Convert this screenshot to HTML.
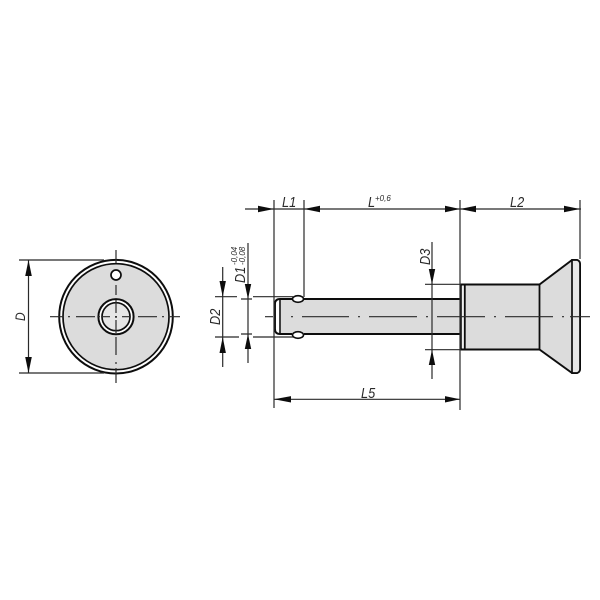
<!DOCTYPE html>
<html>
<head>
<meta charset="utf-8">
<style>
html,body{margin:0;padding:0;background:#fff;width:600px;height:600px;overflow:hidden}
svg{display:block}
text{font-family:"Liberation Sans",sans-serif;font-style:italic;fill:#2a2a2a}
</style>
</head>
<body>
<svg width="600" height="600" viewBox="0 0 600 600" xmlns="http://www.w3.org/2000/svg">
<defs><filter id="b" filterUnits="userSpaceOnUse" x="0" y="0" width="600" height="600"><feGaussianBlur stdDeviation="0.35"/></filter></defs>
<g filter="url(#b)">
<!-- Left view -->
<circle cx="116" cy="316.7" r="56.8" fill="#fff" stroke="#111" stroke-width="2"/>
<circle cx="116" cy="316.7" r="53" fill="#dcdcdc" stroke="#111" stroke-width="1.7"/>
<circle cx="116" cy="316.7" r="17.6" fill="#fff" stroke="#111" stroke-width="2"/>
<circle cx="116" cy="316.7" r="14" fill="#e6e6e6" stroke="#111" stroke-width="1.7"/>
<circle cx="116" cy="275" r="5" fill="#fff" stroke="#111" stroke-width="1.7"/>
<g stroke="#2a2a2a" stroke-width="1.2" fill="none">
<path d="M50 316.7H63M68 316.7H70M76 316.7H95M98 316.7H100M102 316.7H110M115 316.7H117M122 316.7H130M138 316.7H157M162 316.7H164M170 316.7H180"/>
<path d="M116 250V263M116 269V271M116 285V295M116 300V313M116 316V318M116 320V333M116 337V355M116 362V364M116 368V383"/>
<path d="M19 260H104M19 373H104M28.5 260V373"/>
</g>
<g fill="#111">
<path d="M28.5 260L25.2 276H31.8Z"/>
<path d="M28.5 373L25.2 357H31.8Z"/>
</g>
<text transform="translate(25,321) rotate(-90) scale(.85,1)" font-size="14">D</text>

<!-- Pin body -->
<path d="M280 299H461V334H280Z" fill="#dcdcdc" stroke="none"/>
<path d="M304 299H461M304 334H461" stroke="#111" stroke-width="1.9" fill="none"/>
<path d="M292 299H280Q275 299 275 304V329Q275 334 280 334H292" fill="#fff" stroke="#111" stroke-width="1.9"/>
<path d="M280 299V334" stroke="#111" stroke-width="1.6"/>
<path d="M281 300H300V333H281Z" fill="#dcdcdc"/>
<ellipse cx="298" cy="299" rx="5.5" ry="3.3" fill="#fff" stroke="#111" stroke-width="1.6"/>
<ellipse cx="298" cy="335" rx="5.5" ry="3.3" fill="#fff" stroke="#111" stroke-width="1.6"/>

<!-- Collar & head -->
<path d="M461 284.5H539.5L572 260H577Q580 261 580 264V369Q580 372 577 373H572L539.5 349.5H461Z" fill="#dcdcdc" stroke="#111" stroke-width="2" stroke-linejoin="round"/>
<path d="M572 260H577Q580 261 580 264V369Q580 372 577 373H572Z" fill="#e8e8e8" stroke="#111" stroke-width="1.7"/>
<path d="M461.8 285.6H464V348.4H461.8Z" fill="#f0f0f0"/>
<path d="M464.8 284.5V349.5M539.5 284.5V349.5" stroke="#111" stroke-width="1.8" fill="none"/>

<!-- Center line -->
<path d="M265 316.7H273M291 316.7H293M302 316.7H349M358 316.7H360M369 316.7H417M426 316.7H428M437 316.7H485M494 316.7H496M505 316.7H553M562 316.7H564M570 316.7H590" fill="none" stroke="#2a2a2a" stroke-width="1.2"/>

<!-- Dimensions -->
<g stroke="#2a2a2a" stroke-width="1.2" fill="none">
<path d="M274 200V408M304 200V297M460 200V410M580 200V259"/>
<path d="M245 209H581"/>
<path d="M274 399.3H460"/>
<path d="M215 296.7H237M253 296.7H293M215 337H239M253 337H293"/>
<path d="M241 299H252M241 334H252"/>
<path d="M222.7 267V367M248 243V363"/>
<path d="M425 284.3H461M425 349.7H461M432 242V379"/>
</g>
<g fill="#111">
<path d="M274 209L258 205.8V212.2Z"/>
<path d="M304 209L320 205.8V212.2Z"/>
<path d="M460 209L445 205.8V212.2Z"/>
<path d="M460 209L476 205.8V212.2Z"/>
<path d="M580 209L564 205.8V212.2Z"/>
<path d="M274 399.3L291 396.1V402.5Z"/>
<path d="M460 399.3L445 396.1V402.5Z"/>
<path d="M222.7 296.7L219.5 281H225.9Z"/>
<path d="M222.7 337L219.5 353H225.9Z"/>
<path d="M248 299L244.8 284H251.2Z"/>
<path d="M248 334L244.8 349H251.2Z"/>
<path d="M432 284.3L428.8 269H435.2Z"/>
<path d="M432 349.7L428.8 365H435.2Z"/>
</g>

<!-- Labels -->
<text transform="translate(282,207) scale(.85,1)" font-size="15">L1</text>
<text transform="translate(368,207) scale(.85,1)" font-size="15">L</text>
<text x="375" y="201" font-size="8">+0,6</text>
<text transform="translate(510,207) scale(.85,1)" font-size="15">L2</text>
<text transform="translate(361,398) scale(.85,1)" font-size="15">L5</text>
<text transform="translate(220,325) rotate(-90) scale(.85,1)" font-size="15">D2</text>
<text transform="translate(245,283) rotate(-90) scale(.85,1)" font-size="15">D1</text>
<text transform="translate(237,265) rotate(-90)" font-size="8">-0,04</text>
<text transform="translate(245,265) rotate(-90)" font-size="8">-0,08</text>
<text transform="translate(430,265) rotate(-90) scale(.85,1)" font-size="15">D3</text>
</g>
</svg>
</body>
</html>
